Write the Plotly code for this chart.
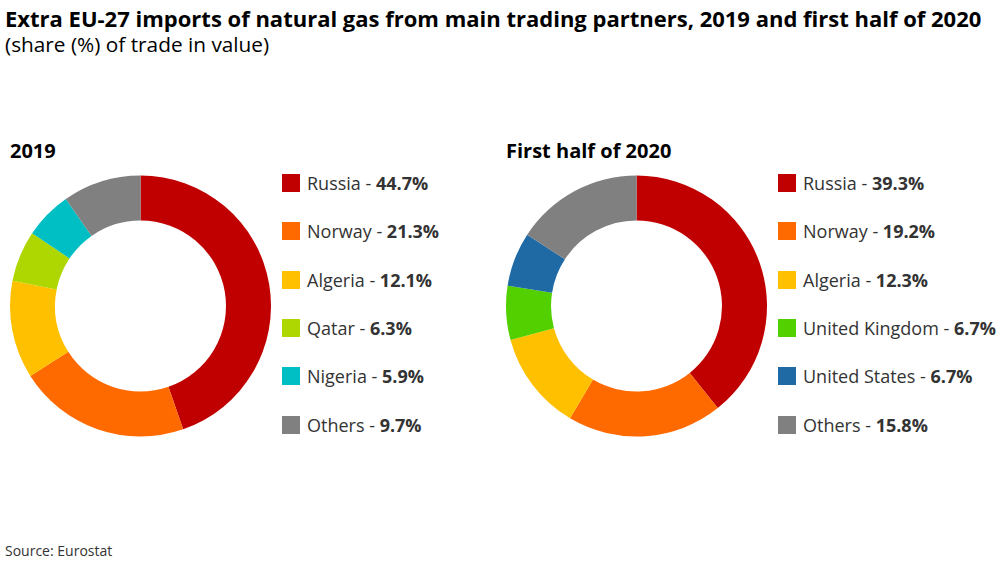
import plotly.graph_objects as go

labels_2019 = ["Russia", "Norway", "Algeria", "Qatar", "Nigeria", "Others"]
values_2019 = [44.7, 21.3, 12.1, 6.3, 5.9, 9.7]
colors_2019 = ["#c00000", "#ff6a00", "#ffc000", "#aed600", "#00bfc4", "#808080"]

labels_2020 = ["Russia", "Norway", "Algeria", "United Kingdom", "United States", "Others"]
values_2020 = [39.3, 19.2, 12.3, 6.7, 6.7, 15.8]
colors_2020 = ["#c00000", "#ff6a00", "#ffc000", "#52d000", "#1f6aa5", "#808080"]

W, H = 1000, 563
FONT = "Open Sans"
TXT = "#333333"
LEG_Y = [183, 231, 280, 328, 376, 425]

fig = go.Figure()


def donut(values, labels, colors, cx, cy, r):
    fig.add_trace(go.Pie(
        values=values, labels=labels, hole=0.655, sort=False, direction="clockwise",
        rotation=0, textinfo="none", showlegend=False,
        marker=dict(colors=colors, line=dict(width=0)),
        domain=dict(x=[(cx - r) / W, (cx + r) / W], y=[1 - (cy + r) / H, 1 - (cy - r) / H]),
    ))


donut(values_2019, labels_2019, colors_2019, 140.5, 306, 130.5)
donut(values_2020, labels_2020, colors_2020, 636.5, 306, 130.5)

shapes, anns = [], []


def text(x, y, t, size, color="#000000", anchor="left"):
    anns.append(dict(x=x / W, y=1 - y / H, xref="paper", yref="paper", text=t, showarrow=False,
                     xanchor=anchor, yanchor="middle", borderpad=0, borderwidth=0,
                     font=dict(family=FONT, size=size, color=color)))


def legend(x, labels, values, colors):
    for lab, val, col, y in zip(labels, values, colors, LEG_Y):
        shapes.append(dict(type="rect", xref="paper", yref="paper", x0=x / W, x1=(x + 18) / W,
                           y0=1 - (y + 9) / H, y1=1 - (y - 9) / H, fillcolor=col, line=dict(width=0)))
        text(x + 25, y, f"{lab} - <b>{val}%</b>", 18, TXT)


legend(282, labels_2019, values_2019, colors_2019)
legend(778, labels_2020, values_2020, colors_2020)

text(5, 17.5, "<b>Extra EU-27 imports of natural gas from main trading partners, 2019 and first half of 2020</b>", 22)
text(5, 43.5, "(share (%) of trade in value)", 20.8)
text(10, 151, "<b>2019</b>", 20)
text(506, 151, "<b>First half of 2020</b>", 20)
text(5, 550, "Source: Eurostat", 14, TXT)

fig.update_layout(width=W, height=H, margin=dict(l=0, r=0, t=0, b=0), paper_bgcolor="white",
                  plot_bgcolor="white", shapes=shapes, annotations=anns, font=dict(family=FONT))
fig.write_html("out.html", config=dict(displayModeBar=False),
               post_script="document.body.style.margin='0';document.body.style.overflow='hidden';")
